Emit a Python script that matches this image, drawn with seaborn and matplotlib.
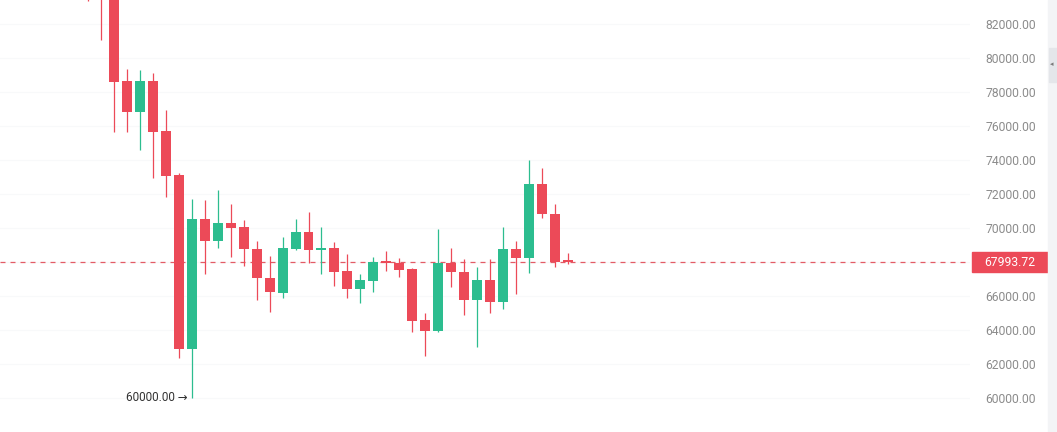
import matplotlib
matplotlib.use("Agg")
import matplotlib.pyplot as plt
import matplotlib.transforms as mtransforms
from matplotlib.patches import Rectangle
import seaborn as sns

# ==========================================
# Datos OHLC (velas diarias)
# ==========================================
opens = [84800, 84300, 83900, 78647, 76824, 78647, 75706, 73118, 62882, 70529,
         69235, 70294, 70059, 68765, 67059, 66176, 68765, 69765, 68706, 68824,
         67471, 66412, 66882, 68059, 67941, 67588, 64588, 63941, 67941, 67412,
         65765, 66941, 65647, 68765, 68235, 72588, 70824, 68100]
highs = [85200, 84600, 84200, 79353, 79294, 79118, 76941, 73235, 71706, 71647,
         72235, 71412, 70471, 69235, 68353, 69471, 70529, 70941, 70059, 69176,
         68471, 67294, 68294, 68647, 68235, 67647, 65000, 69941, 68824, 68176,
         67706, 68176, 70059, 69235, 74000, 73529, 71412, 68529]
lows = [83353, 81059, 75647, 75647, 74588, 72941, 71824, 62353, 60000, 67294,
        68824, 68294, 67765, 65765, 65059, 65882, 68706, 67941, 67294, 66588,
        65882, 65588, 66235, 67471, 67118, 63882, 62471, 63882, 66529, 64882,
        63000, 65000, 65235, 66118, 67353, 70588, 67706, 67900]
closes = [84300, 83900, 78588, 76824, 78647, 75647, 73059, 62882, 70529, 69235,
          70294, 70000, 68765, 67059, 66235, 68824, 69765, 68706, 68824, 67412,
          66412, 66941, 68000, 67941, 67529, 64529, 63941, 67941, 67412, 65765,
          66941, 65647, 68765, 68235, 72588, 70824, 68000, 67993.72]

y_ticks = list(range(60000, 84000, 2000))
last_price = 67993.72
low_label = 60000
low_index = 8

RED = "#ec4a58"
GREEN = "#2cbd8f"

# ==========================================
# Gráfico
# ==========================================
sns.set_style("white")
plt.rcParams['font.family'] = ['Roboto', 'DejaVu Sans']

fig = plt.figure(figsize=(10.57, 4.32), dpi=100)
W, H = 1057, 432
ax = fig.add_axes([0, 0, 970 / W, 1])

xs = list(range(len(opens)))
colors = [GREEN if c >= o else RED for o, c in zip(opens, closes)]

# grid muy tenue
for t in y_ticks:
    ax.axhline(t, color="#f8f9fa", lw=0.8, zorder=0)

# mechas
ax.vlines(xs, lows, highs, colors=colors, lw=0.9, zorder=2)
# cuerpos
bottoms = [min(o, c) for o, c in zip(opens, closes)]
heights = [max(abs(c - o), 60) for o, c in zip(opens, closes)]
ax.bar(xs, heights, bottom=bottoms, width=0.77, color=colors, zorder=3, linewidth=0)

# línea de precio actual
ax.axhline(last_price, color="#e35b66", lw=0.9, ls=(0, (4, 4)), zorder=1)

ax.set_xlim(-6.785, 68.0)
ax.set_ylim(58000, 83412)
ax.set_xticks([])
ax.yaxis.tick_right()
ax.set_yticks(y_ticks)
ax.set_yticklabels([f"{t:.2f}" for t in y_ticks])
ax.tick_params(axis="y", length=0, pad=11, labelsize=8.7, labelcolor="#8c8c8c")
sns.despine(ax=ax, left=True, bottom=True, right=True, top=True)

# etiqueta de mínimo
ax.annotate(f"{low_label:.2f} \u2192", xy=(low_index, low_label), xytext=(-4, 1),
            textcoords="offset pixels", ha="right", va="center",
            fontsize=8.5, color="#333333")

# etiqueta del precio actual en el eje
trans = mtransforms.blended_transform_factory(ax.transAxes, ax.transData)
box_h = 20 * (83412 - 58000) / H
ax.add_patch(Rectangle((972 / 970, last_price - box_h / 2), 77 / 970, box_h,
                       transform=trans, color=RED, clip_on=False, zorder=5))
ax.text(984 / 970, last_price, f"{last_price:.2f}", transform=trans,
        ha="left", va="center", color="white", fontsize=8.7, zorder=6)

# franja lateral derecha con pestaña
fig.patches.append(Rectangle((1048 / W, 0), 9 / W, 1, transform=fig.transFigure,
                             color="#f3f4f6", zorder=0))
fig.patches.append(Rectangle((1049 / W, 1 - 82 / H), 8 / W, 34 / H,
                             transform=fig.transFigure, color="#e4e6ea", zorder=1))
fig.text(1052 / W, 1 - 64 / H, "\u25c2", fontsize=5, color="#7a7a7a",
         ha="center", va="center", family=['DejaVu Sans'])

fig.savefig("out.png", dpi=100)
